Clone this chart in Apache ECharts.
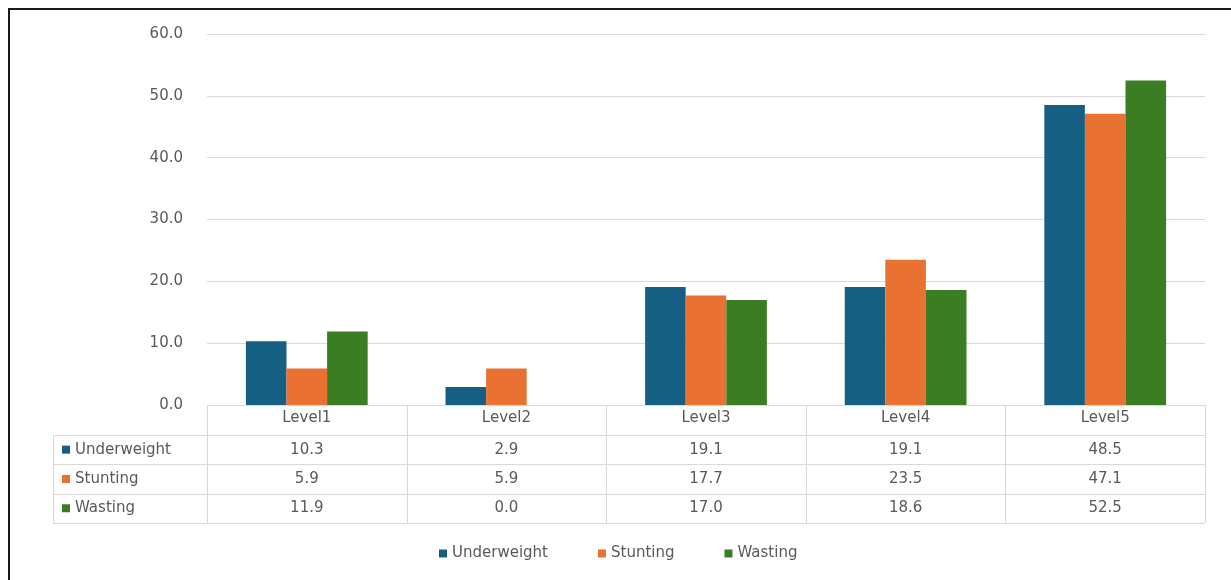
<!DOCTYPE html>
<html>
<head>
<meta charset="utf-8">
<script src="https://cdn.jsdelivr.net/npm/echarts@6/dist/echarts.min.js"></script>
<style>
body{margin:0;background:#fff}
#chart{width:1231px;height:580px}
</style>
</head>
<body>
<div id="chart"></div>
<script>
let categories = ['Level1', 'Level2', 'Level3', 'Level4', 'Level5'];
let seriesNames = ['Underweight', 'Stunting', 'Wasting'];
let underweight = [10.3, 2.9, 19.1, 19.1, 48.5];
let stunting = [5.9, 5.9, 17.7, 23.5, 47.1];
let wasting = [11.9, 0.0, 17.0, 18.6, 52.5];
let yTicks = [0, 10, 20, 30, 40, 50, 60];
let colors = ['#156082', '#E97132', '#3B7D23'];

let textColor = '#595959';
let lineColor = '#d9d9d9';
let font = '15px "DejaVu Sans", sans-serif';

function setChart(){
    let myChart = echarts.init(document.getElementById('chart'));
    let allData = [underweight, stunting, wasting];

    let series = [];
    for(let i = 0;i<seriesNames.length;i++){
        series.push({
            name: seriesNames[i],
            type: 'bar',
            data: allData[i],
            barGap: '0%',
            barCategoryGap: '39%',
            itemStyle: {color: colors[i]}
        });
    }

    let option = {
        animation: false,
        color: colors,
        grid: {left: 207, right: 26, top: 34, bottom: 175, containLabel: false},
        legend: {
            data: seriesNames,
            left: 434,
            top: 541,
            icon: 'rect',
            itemWidth: 8,
            itemHeight: 8,
            itemGap: 50,
            textStyle: {color: textColor, fontSize: 15, fontFamily: 'DejaVu Sans'}
        },
        xAxis: {
            type: 'category',
            data: categories,
            axisLine: {lineStyle: {color: lineColor}},
            axisTick: {show: false},
            axisLabel: {color: textColor, fontSize: 15, fontFamily: 'DejaVu Sans', margin: 6}
        },
        yAxis: {
            type: 'value',
            min: yTicks[0],
            max: yTicks[yTicks.length - 1],
            interval: 10,
            axisLine: {show: false},
            axisTick: {show: false},
            axisLabel: {
                color: textColor, fontSize: 15, fontFamily: 'DejaVu Sans', margin: 24,
                formatter: function(v){ return v.toFixed(1); }
            },
            splitLine: {lineStyle: {color: lineColor}}
        },
        series: series
    };
    myChart.setOption(option);

    // data table under the axis, placed from the axis scale
    let y0 = myChart.convertToPixel({yAxisIndex: 0}, 0);
    let c0 = myChart.convertToPixel({xAxisIndex: 0}, categories[0]);
    let c1 = myChart.convertToPixel({xAxisIndex: 0}, categories[1]);
    let band = c1 - c0;
    let xLeft = c0 - band / 2;
    let xRight = xLeft + band * categories.length;
    let tableLeft = 53;
    let headerH = 30;
    let rowH = 29.3;
    let tableBottom = y0 + headerH + rowH * seriesNames.length;

    let g = [];
    // outer frame
    g.push({type: 'polyline', shape: {points: [[9, 580], [9, 9], [1231, 9]]},
        style: {stroke: '#1a1a1a', lineWidth: 2, fill: null}, silent: true});

    // horizontal lines
    for(let r = 0;r<=seriesNames.length;r++){
        let y = Math.round(y0 + headerH + rowH * r) + 0.5;
        g.push({type: 'line', shape: {x1: tableLeft, y1: y, x2: xRight, y2: y},
            style: {stroke: lineColor, lineWidth: 1}, silent: true});
    }
    // vertical lines
    g.push({type: 'line', shape: {x1: tableLeft + 0.5, y1: y0 + headerH, x2: tableLeft + 0.5, y2: tableBottom},
        style: {stroke: lineColor, lineWidth: 1}, silent: true});
    for(let k = 0;k<=categories.length;k++){
        let x = Math.round(xLeft + band * k) + 0.5;
        g.push({type: 'line', shape: {x1: x, y1: y0, x2: x, y2: tableBottom},
            style: {stroke: lineColor, lineWidth: 1}, silent: true});
    }

    // rows
    for(let r = 0;r<seriesNames.length;r++){
        let yc = y0 + headerH + rowH * r + rowH / 2;
        g.push({type: 'rect', shape: {x: tableLeft + 9, y: yc - 4, width: 8, height: 8},
            style: {fill: colors[r]}, silent: true});
        g.push({type: 'text', style: {text: seriesNames[r], x: tableLeft + 22, y: yc,
            align: 'left', verticalAlign: 'middle', fill: textColor, font: font}, silent: true});
        for(let k = 0;k<categories.length;k++){
            let xc = myChart.convertToPixel({xAxisIndex: 0}, categories[k]);
            g.push({type: 'text', style: {text: allData[r][k].toFixed(1), x: xc, y: yc,
                align: 'center', verticalAlign: 'middle', fill: textColor, font: font}, silent: true});
        }
    }

    myChart.setOption({graphic: {elements: g}});
}

window.onload = function(){
    setChart();
}
</script>
</body>
</html>
